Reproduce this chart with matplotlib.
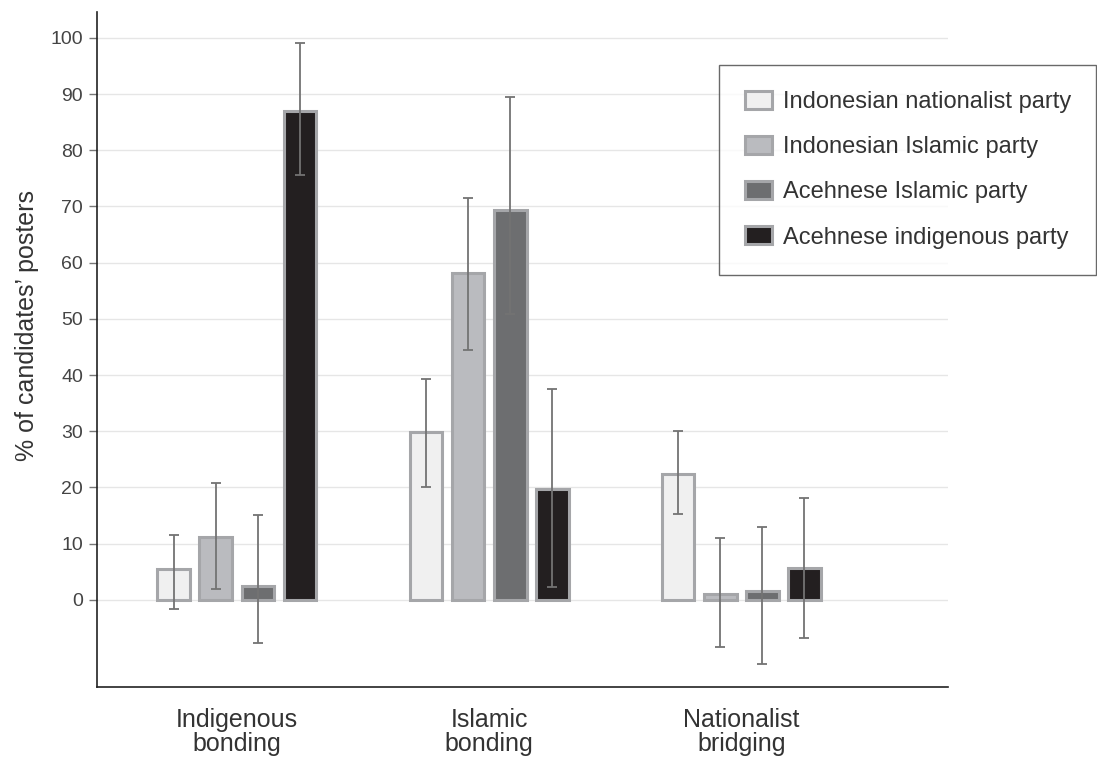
import matplotlib.pyplot as plt
import numpy as np

plt.rcParams['font.family'] = ['Liberation Sans', 'DejaVu Sans']

categories = ['Indigenous\nbonding', 'Islamic\nbonding', 'Nationalist\nbridging']
parties = ['Indonesian nationalist party', 'Indonesian Islamic party',
           'Acehnese Islamic party', 'Acehnese indigenous party']

# bar heights and error bar ends, one list per party
nationalist = [5.5, 29.9, 22.4]
nationalist_lo = [-1.6, 20.1, 15.3]
nationalist_hi = [11.6, 39.3, 30.1]

indo_islamic = [11.2, 58.2, 1.0]
indo_islamic_lo = [2.0, 44.5, -8.4]
indo_islamic_hi = [20.8, 71.5, 11.0]

aceh_islamic = [2.5, 69.4, 1.6]
aceh_islamic_lo = [-7.7, 50.9, -11.4]
aceh_islamic_hi = [15.1, 89.5, 13.0]

aceh_indig = [87.0, 19.8, 5.7]
aceh_indig_lo = [75.6, 2.3, -6.7]
aceh_indig_hi = [99.0, 37.5, 18.2]

series = [(nationalist, nationalist_lo, nationalist_hi),
          (indo_islamic, indo_islamic_lo, indo_islamic_hi),
          (aceh_islamic, aceh_islamic_lo, aceh_islamic_hi),
          (aceh_indig, aceh_indig_lo, aceh_indig_hi)]
colors = ['#f0f0f0', '#babbbf', '#6d6e70', '#231f20']

W, H = 1097, 759
fig = plt.figure(figsize=(W / 100, H / 100), dpi=100)
ax = fig.add_axes([97 / W, 1 - 687 / H, (948 - 97) / W, (687 - 12) / H])

x = np.arange(len(categories))
width = 0.13
step = 0.167
for i, (vals, lo, hi) in enumerate(series):
    pos = x + (i - 1.5) * step
    vals = np.array(vals)
    err = [vals - np.array(lo), np.array(hi) - vals]
    ax.bar(pos, vals, width, color=colors[i], edgecolor='#a5a6a9',
           linewidth=2.2, label=parties[i], zorder=2)
    ax.errorbar(pos, vals, yerr=err, fmt='none', ecolor='#737373',
                elinewidth=1.3, capsize=3.5, capthick=1.3, zorder=3)

ax.set_xlim(-0.555, 2.82)
ax.set_ylim(-15.5, 104.6)
ax.set_yticks(range(0, 101, 10))
ax.set_xticks(x)
ax.set_xticklabels(categories, fontsize=18, color='#333333', linespacing=1.0)
ax.tick_params(axis='x', length=0, pad=15)
ax.tick_params(axis='y', labelsize=14, labelcolor='#444444', color='#777777',
               length=6, width=1, pad=4)
ax.grid(axis='y', color='#e6e6e6', linewidth=1, zorder=0)
ax.set_axisbelow(True)
for s in ['top', 'right']:
    ax.spines[s].set_visible(False)
for s in ['left', 'bottom']:
    ax.spines[s].set_color('#222222')
    ax.spines[s].set_linewidth(1.2)
ax.set_ylabel('% of candidates\u2019 posters', fontsize=18, color='#333333', labelpad=8)
ax.yaxis.label.set_y(0.536)

leg = ax.legend(loc='upper left', bbox_to_anchor=(719 / W, 1 - 268 / H, 377 / W, 203 / H),
                bbox_transform=fig.transFigure, mode='expand', fontsize=17,
                frameon=True, fancybox=False, edgecolor='#444444',
                handlelength=1.15, handleheight=0.8, labelspacing=0.97,
                borderpad=1.1, handletextpad=0.45, borderaxespad=0)
leg.get_frame().set_linewidth(1.0)
for t in leg.get_texts():
    t.set_color('#333333')

fig.savefig('out.png', dpi=100)
